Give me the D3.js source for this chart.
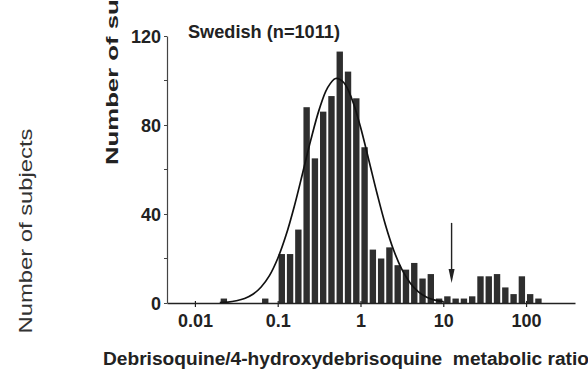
<!DOCTYPE html>
<html>
<head>
<meta charset="utf-8">
<script src="https://cdn.jsdelivr.net/npm/d3@7"></script>
<style>
  html, body { margin: 0; padding: 0; background: #fff; }
  svg { display: block; }
  text { font-family: "Liberation Sans", Arial, Helvetica, sans-serif; }
</style>
</head>
<body>
<svg id="chart" width="588" height="371"></svg>
<script>
// ---- data ----
// histogram bins: lower edge of each bin as log10(metabolic ratio), bin width 0.1 log unit
const binLogStart = [-1.7, -1.2, -1.0, -0.9, -0.8, -0.7, -0.6, -0.5, -0.4, -0.3, -0.2, -0.1,
                     0.0, 0.1, 0.2, 0.3, 0.4, 0.5, 0.6, 0.7, 0.8, 0.9, 1.0, 1.1, 1.2, 1.3,
                     1.4, 1.5, 1.6, 1.7, 1.8, 1.9, 2.0, 2.1];
const binCounts   = [2, 2, 22, 22, 33, 88, 65, 86, 93, 113, 104, 92,
                     70, 24, 20, 25, 17, 15, 18, 11, 13, 2, 3, 2, 2, 3,
                     12, 12, 13, 7, 4, 12, 4, 2];
const binWidthLog = 0.1;

// fitted curve, points (log10 ratio, number of subjects)
const curveLog = [-1.7, -1.6, -1.5, -1.4, -1.3, -1.2, -1.1, -1.0, -0.9, -0.8, -0.7, -0.6, -0.5,
                  -0.4, -0.3, -0.2, -0.1, 0.0, 0.1, 0.2, 0.3, 0.4, 0.5, 0.6, 0.7, 0.8, 0.9, 1.0];
const curveVal = [0.2, 0.4, 1.0, 2.0, 3.9, 7.2, 12.3, 20.0, 30.4, 43.4, 58.2, 73.3, 86.8,
                  96.6, 100.9, 99.0, 91.3, 79.1, 64.3, 49.2, 35.3, 23.8, 15.1, 9.0, 5.0, 2.6, 1.3, 0.6];

const xTickValues = [0.01, 0.1, 1, 10, 100];
const xTickLabels = ["0.01", "0.1", "1", "10", "100"];
const yTickValues = [0, 40, 80, 120];
const yMinorTicks = [20, 60, 100];

const antimode = 12.6;          // arrow position
const arrowTop = 36, arrowTip = 9;

const title = "Swedish (n=1011)";
const xTitle = "Debrisoquine/4-hydroxydebrisoquine  metabolic ratio";
const yTitleInner = "Number of subjects";
const yTitleOuter = "Number of subjects";

// ---- drawing ----
const svg = d3.select("#chart");
const ink = "#222";

const x = d3.scaleLog().domain([0.0046, 390]).range([167, 575]);
const y = d3.scaleLinear().domain([0, 120]).range([303, 36]);

// bars
svg.append("g").selectAll("rect")
  .data(binLogStart.map((l, i) => ({ l, v: binCounts[i] })))
  .join("rect")
  .attr("x", d => x(Math.pow(10, d.l)) + 0.9)
  .attr("width", d => x(Math.pow(10, d.l + binWidthLog)) - x(Math.pow(10, d.l)) - 1.9)
  .attr("y", d => y(d.v))
  .attr("height", d => y(0) - y(d.v))
  .attr("fill", "#2e2e2e");

// fitted curve
const line = d3.line()
  .x(d => x(Math.pow(10, d[0])))
  .y(d => y(d[1]))
  .curve(d3.curveCatmullRom);
svg.append("path")
  .datum(curveLog.map((l, i) => [l, curveVal[i]]))
  .attr("d", line)
  .attr("fill", "none")
  .attr("stroke", "#111")
  .attr("stroke-width", 1.7);

// x axis
const xAxis = d3.axisBottom(x).tickValues(xTickValues)
  .tickFormat((d, i) => xTickLabels[i]).tickSize(4).tickSizeOuter(0);
const gx = svg.append("g").attr("transform", `translate(0,${y(0)})`).call(xAxis);
gx.select(".domain").attr("stroke", ink).attr("stroke-width", 1.4);
gx.selectAll(".tick line").attr("stroke", ink).attr("stroke-width", 1.2).attr("y1", -2);
gx.selectAll(".tick text")
  .attr("fill", ink).attr("font-size", 18).attr("font-weight", "bold")
  .attr("dy", 0).attr("y", 24)
  .attr("font-family", "'Liberation Sans', Arial, sans-serif");

// y axis
const yAxis = d3.axisLeft(y).tickValues(yTickValues).tickSize(3).tickSizeOuter(0);
const gy = svg.append("g").attr("transform", `translate(${x(0.0046)},0)`).call(yAxis);
gy.select(".domain").attr("stroke", "#444").attr("stroke-width", 1.2);
gy.selectAll(".tick line").attr("stroke", "#444");
gy.selectAll(".tick text")
  .attr("fill", ink).attr("font-size", 18).attr("font-weight", "bold")
  .attr("x", -6).attr("dy", "0.38em")
  .attr("font-family", "'Liberation Sans', Arial, sans-serif");
gy.append("g").selectAll("line").data(yMinorTicks).join("line")
  .attr("x1", -3).attr("x2", 0)
  .attr("y1", d => y(d)).attr("y2", d => y(d))
  .attr("stroke", "#444");

// arrow at antimode
const ax = x(antimode);
svg.append("line")
  .attr("x1", ax).attr("x2", ax)
  .attr("y1", y(arrowTop)).attr("y2", y(arrowTip) - 10)
  .attr("stroke", "#222").attr("stroke-width", 1.4);
svg.append("path")
  .attr("d", `M${ax - 3},${y(arrowTip) - 14} L${ax + 3},${y(arrowTip) - 14} L${ax},${y(arrowTip)} Z`)
  .attr("fill", "#222");

// title
svg.append("text")
  .attr("x", 188).attr("y", 38)
  .attr("font-size", 18).attr("font-weight", "bold").attr("fill", ink)
  .attr("textLength", 152).attr("lengthAdjust", "spacingAndGlyphs")
  .text(title);

// x title
svg.append("text")
  .attr("x", 103).attr("y", 365)
  .attr("font-size", 18).attr("font-weight", "bold").attr("fill", ink)
  .style("white-space", "pre")
  .attr("textLength", 486).attr("lengthAdjust", "spacingAndGlyphs")
  .text(xTitle);

// inner y title (cut by top edge)
svg.append("text")
  .attr("transform", "translate(118,165) rotate(-90)")
  .attr("x", 0).attr("y", 0)
  .attr("font-size", 17).attr("font-weight", "bold").attr("fill", ink)
  .attr("textLength", 240).attr("lengthAdjust", "spacingAndGlyphs")
  .text(yTitleInner);

// outer y title
svg.append("text")
  .attr("transform", "translate(32,231) rotate(-90)")
  .attr("text-anchor", "middle")
  .attr("font-size", 18).attr("fill", "#333")
  .attr("textLength", 205).attr("lengthAdjust", "spacingAndGlyphs")
  .text(yTitleOuter);
</script>
</body>
</html>
